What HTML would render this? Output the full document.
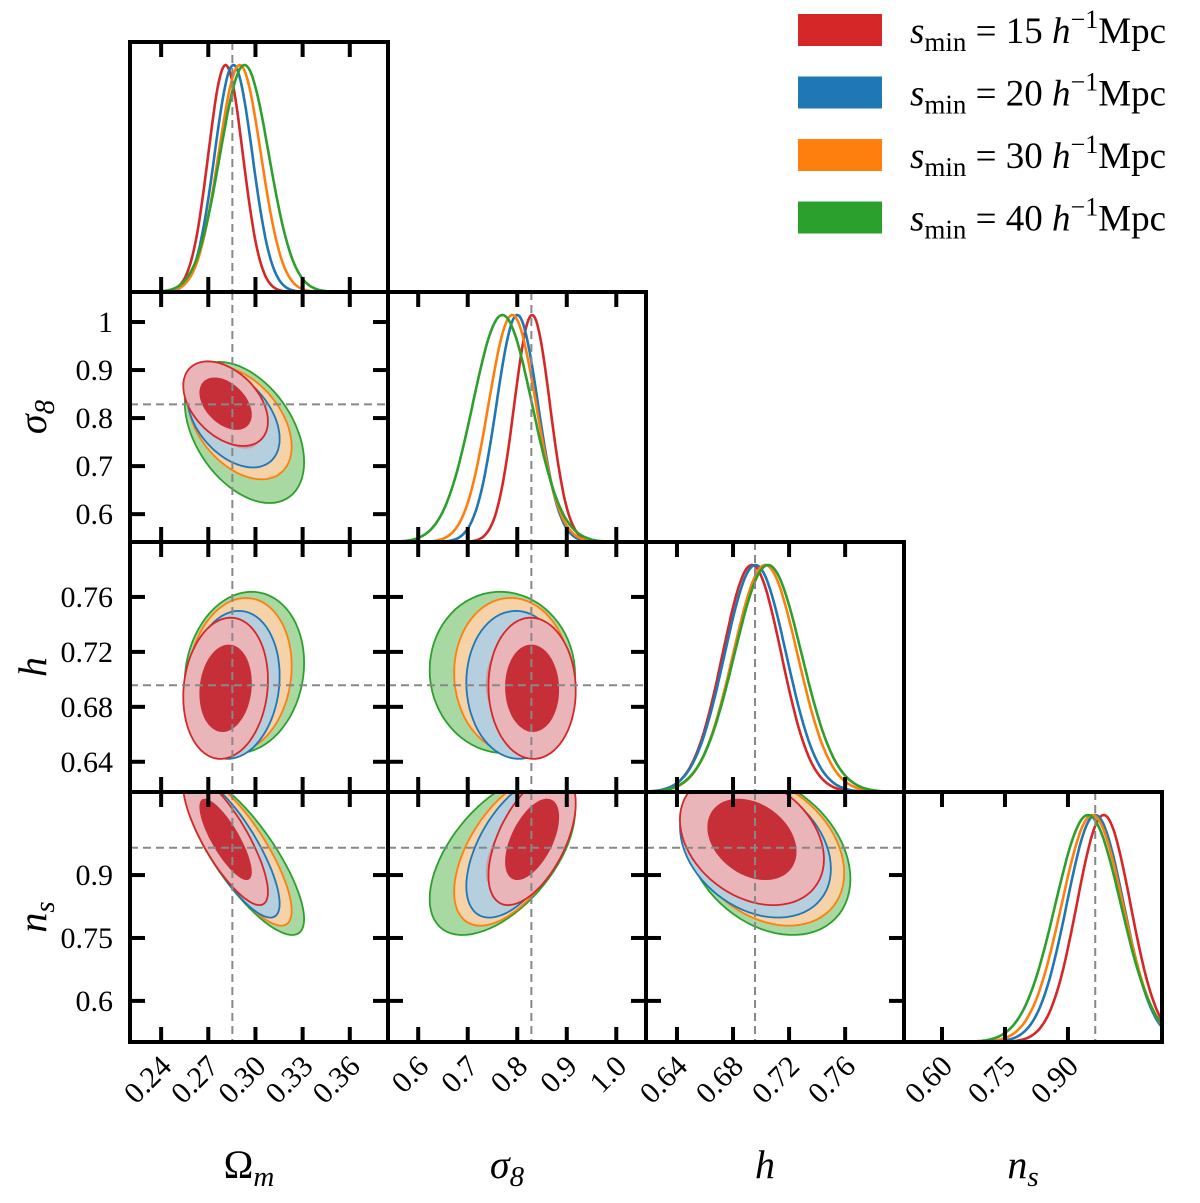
<!DOCTYPE html>
<html><head><meta charset="utf-8"><style>
html,body{margin:0;padding:0;background:#fff;}
svg text{font-family:"Liberation Serif","DejaVu Serif",serif;fill:#000;}
</style></head><body>
<svg id="c" width="1200" height="1198" viewBox="0 0 1200 1198" xmlns="http://www.w3.org/2000/svg">
<defs id="defs"></defs>
<g id="legend"></g>
</svg>
<script>
// ---- data ----
const paramLabels = ["Ω_m","σ_8","h","n_s"];
const seriesNames = ["15","20","30","40"];
const seriesColors = ["#d62728","#1f77b4","#ff7f0e","#2ca02c"];
const meanOm = [0.281, 0.286, 0.290, 0.293];
const meanS8 = [0.830, 0.800, 0.790, 0.770];
const meanH  = [0.6935, 0.696, 0.703, 0.705];
const meanNs = [0.985, 0.965, 0.958, 0.948];
const sdOm = [0.0110, 0.0120, 0.0135, 0.0155];
const sdS8 = [0.036, 0.042, 0.048, 0.060];
const sdH  = [0.021, 0.022, 0.023, 0.024];
const sdNs = [0.064, 0.068, 0.073, 0.078];
const rhoOmS8 = -0.42, rhoOmH = 0.12, rhoOmNs = -0.8, rhoS8H = -0.03, rhoS8Ns = 0.55, rhoHNs = -0.3;
const truth = [0.2853, 0.8285, 0.6957, 0.965];
const ticksOm = [0.24,0.27,0.30,0.33,0.36];
const ticksS8 = [0.6,0.7,0.8,0.9,1.0];
const ticksH  = [0.64,0.68,0.72,0.76];
const ticksNs = [0.60,0.75,0.90];
const tickLabelsX = [["0.24","0.27","0.30","0.33","0.36"],["0.6","0.7","0.8","0.9","1.0"],["0.64","0.68","0.72","0.76"],["0.60","0.75","0.90"]];
const tickLabelsY = [null,["1","0.9","0.8","0.7","0.6"],["0.76","0.72","0.68","0.64"],["0.9","0.75","0.6"]];
const ticksYS8 = [1.0,0.9,0.8,0.7,0.6];
const ticksYH = [0.76,0.72,0.68,0.64];
const ticksYNs = [0.9,0.75,0.6];
// ---- layout ----
const X0=130,Y0=42,W=258,H=250;
const xr=[[0.2202,0.3843],[0.539,1.060],[0.6179,0.802],[0.5095,1.124]];
const yr=[null,[0.542,1.0625],[0.618,0.80],[0.502,1.098]];
const means=[meanOm,meanS8,meanH,meanNs], sds=[sdOm,sdS8,sdH,sdNs];
const xticks=[ticksOm,ticksS8,ticksH,ticksNs], yticks=[null,ticksYS8,ticksYH,ticksYNs];
const rho={"0-1":rhoOmS8,"0-2":rhoOmH,"0-3":rhoOmNs,"1-2":rhoS8H,"1-3":rhoS8Ns,"2-3":rhoHNs};
const outerFill=["#eab5b9","#b6cfdf","#f5d2a8","#a9d9a3"];
const innerFill=["#c62f37","#c9a1ab","#e0aaa0","#d09c8c"];
const NS="http://www.w3.org/2000/svg";
const svg=document.getElementById('c'), defs=document.getElementById('defs');
function el(t,a,p){const e=document.createElementNS(NS,t);for(const k in a)e.setAttribute(k,a[k]);(p||svg).appendChild(e);return e;}
function sx(i,v,col){const r=xr[i];return X0+col*W+(v-r[0])/(r[1]-r[0])*W;}
function sy(j,v,row){const r=yr[j];return Y0+row*H+H-(v-r[0])/(r[1]-r[0])*H;}
for(let row=0;row<4;row++)for(let col=0;col<=row;col++){
  const px=X0+col*W, py=Y0+row*H;
  const cp=el('clipPath',{id:'cp'+row+col},defs);el('rect',{x:px,y:py,width:W,height:H},cp);
  const g=el('g',{'clip-path':'url(#cp'+row+col+')'});
  
  
  if(col===row){
    const i=col;
    for(let s=0;s<4;s++){
      let d='';const m=means[i][s],sd=sds[i][s];
      for(let k=0;k<=200;k++){const v=xr[i][0]+(xr[i][1]-xr[i][0])*k/200;const f=Math.exp(-0.5*((v-m)/sd)**2);
        d+=(k?'L':'M')+sx(i,v,col).toFixed(1)+','+(py+H-f*(H-23)).toFixed(1);}
      const p=el('path',{d:d,fill:'none',stroke:seriesColors[s],'stroke-width':2.6},g);
      
      
    }
    el('line',{x1:sx(i,truth[i],col),x2:sx(i,truth[i],col),y1:py,y2:py+H,stroke:'#888','stroke-width':2,'stroke-dasharray':'8,5'},g);
  } else {
    const i=col,j=row,r=rho[i+'-'+j];
    for(let s=3;s>=0;s--){
      [2.448,1.515].forEach((R,ci)=>{
        let d='';
        for(let k=0;k<=72;k++){const t=k/72*2*Math.PI;
          const vx=means[i][s]+R*sds[i][s]*Math.cos(t);
          const vy=means[j][s]+R*sds[j][s]*(r*Math.cos(t)+Math.sqrt(1-r*r)*Math.sin(t));
          d+=(k?'L':'M')+sx(i,vx,col).toFixed(1)+','+sy(j,vy,row).toFixed(1);}
        const p=el('path',{d:d+'Z',fill:ci?innerFill[s]:outerFill[s],stroke:ci?'none':seriesColors[s],'stroke-width':1.8},g);
        
        
      });
    }
    el('line',{x1:sx(i,truth[i],col),x2:sx(i,truth[i],col),y1:py,y2:py+H,stroke:'#888','stroke-width':2,'stroke-dasharray':'8,5'},g);
    el('line',{x1:px,x2:px+W,y1:sy(j,truth[j],row),y2:sy(j,truth[j],row),stroke:'#888','stroke-width':2,'stroke-dasharray':'8,5'},g);
  }
  xticks[col].forEach(v=>{const x=sx(col,v,col);
    el('line',{x1:x,x2:x,y1:py+H,y2:py+H-15,stroke:'#000','stroke-width':4});
    el('line',{x1:x,x2:x,y1:py,y2:py+15,stroke:'#000','stroke-width':4});});
  if(col!==row) yticks[row].forEach(v=>{const y=sy(row,v,row);
    el('line',{x1:px,x2:px+15,y1:y,y2:y,stroke:'#000','stroke-width':4});
    el('line',{x1:px+W,x2:px+W-15,y1:y,y2:y,stroke:'#000','stroke-width':4});});
  const fr=el('rect',{x:px,y:py,width:W,height:H,fill:'none',stroke:'#000','stroke-width':4});
  
  
}
for(let i=0;i<4;i++){xticks[i].forEach((v,k)=>{const x=sx(i,v,i);
  const t=el('text',{x:x+12,y:1068,'font-size':30,'text-anchor':'end',transform:'rotate(-45 '+(x+12)+' 1068)'});t.textContent=tickLabelsX[i][k];
  
  });}
for(let j=1;j<4;j++){yticks[j].forEach((v,k)=>{const y=sy(j,v,j);
  const t=el('text',{x:113,y:y+10,'font-size':30,'text-anchor':'end'});t.textContent=tickLabelsY[j][k];
  
  });}
const xl=[['Ω','m',false],['σ','8',true],['h','',true],['n','s',true]];
xl.forEach((a,i)=>{const t=el('text',{x:X0+i*W+W/2-10,y:1178,'font-size':40,'text-anchor':'middle','font-style':a[2]?'italic':'normal'});
  t.textContent=a[0];if(a[1]){const s=el('tspan',{'font-size':29,dy:8,'font-style':'italic'},t);s.textContent=a[1];}
  
  });
[[1,'σ','8'],[2,'h',''],[3,'n','s']].forEach(a=>{const cy=Y0+a[0]*H+H/2;
  const t=el('text',{x:46,y:cy,'font-size':40,'text-anchor':'middle','font-style':'italic',transform:'rotate(-90 46 '+cy+')'});
  t.textContent=a[1];if(a[2]){const s=el('tspan',{'font-size':29,dy:8},t);s.textContent=a[2];}
  
  });
const lg=document.getElementById('legend');
seriesNames.forEach((n,s)=>{const y=14+s*62.5;
  const r=el('rect',{x:798,y:y,width:84,height:32,fill:seriesColors[s]},lg);
  
  
  const t=el('text',{x:910,y:y+29,'font-size':37},lg);
  
  
  const a=el('tspan',{'font-style':'italic'},t);a.textContent='s';
  const b=el('tspan',{'font-size':27,dy:8},t);b.textContent='min';
  const c=el('tspan',{dy:-8},t);c.textContent=' = '+n+' ';
  const d=el('tspan',{'font-style':'italic'},t);d.textContent='h';
  const e=el('tspan',{'font-size':26,dy:-15},t);e.textContent='−1';
  const f=el('tspan',{dy:15},t);f.textContent='Mpc';
});
</script>
</body></html>
